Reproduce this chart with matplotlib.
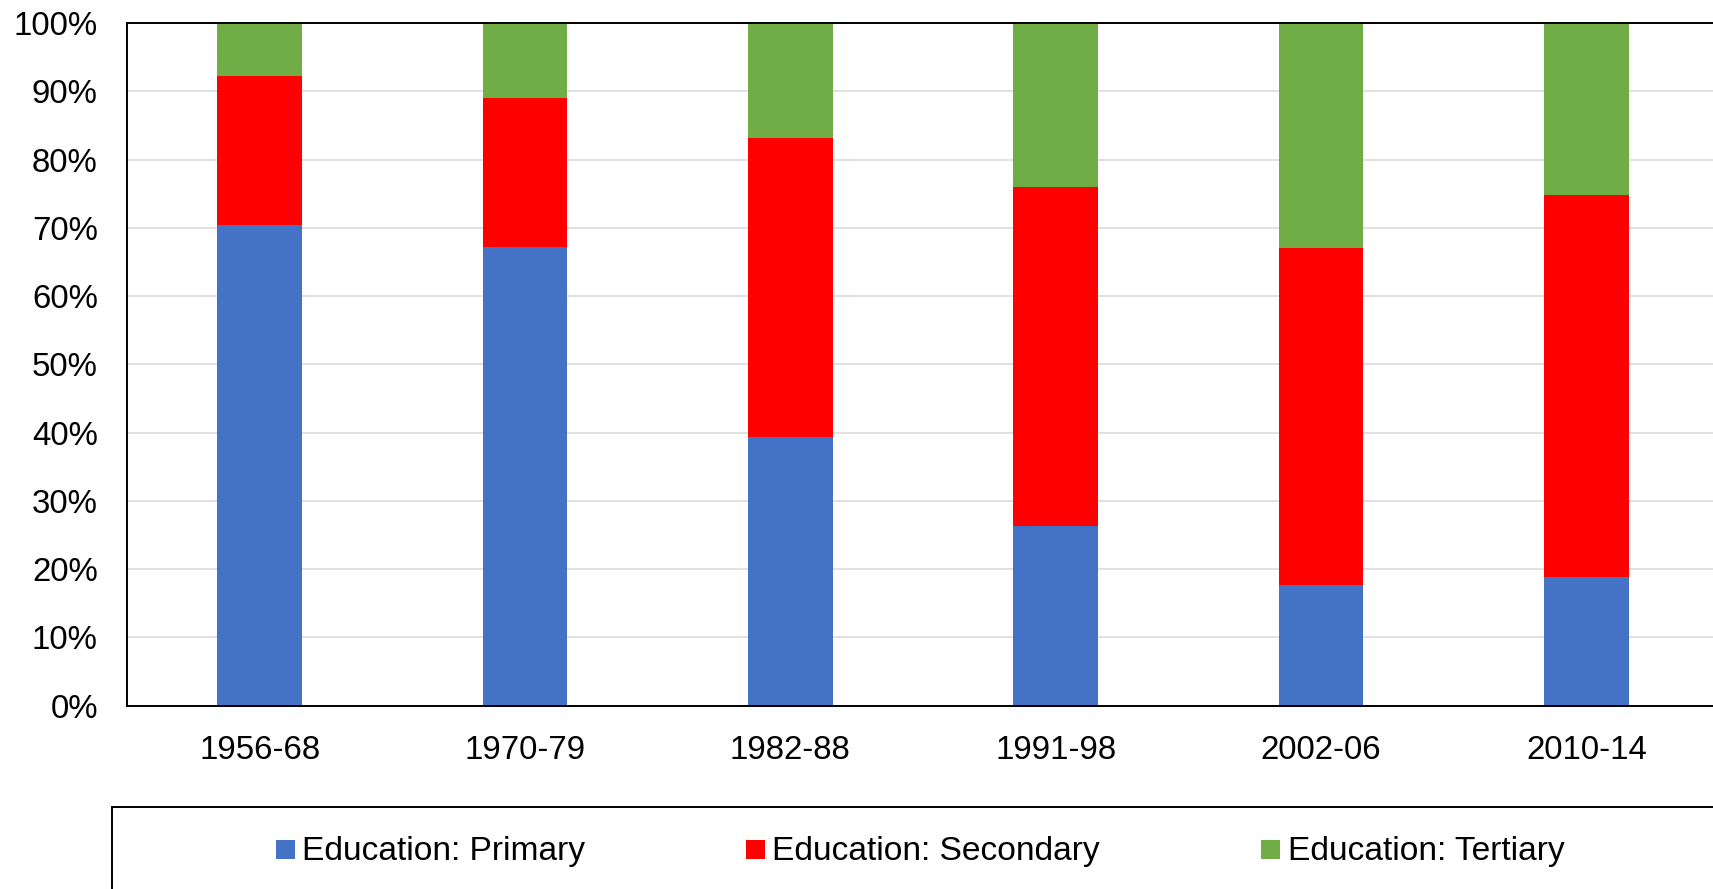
import numpy as np
from matplotlib import pyplot as plt
from matplotlib.patches import Rectangle

# datos (porcentaje de cada nivel)
periods = ['1956-68', '1970-79', '1982-88', '1991-98', '2002-06', '2010-14']
primary = [70.4, 67.2, 39.4, 26.3, 17.7, 18.8]
secondary = [21.8, 21.8, 43.8, 49.7, 49.4, 56.0]
tertiary = [7.8, 11.0, 16.8, 24.0, 32.9, 25.2]
series_names = ['Education: Primary', 'Education: Secondary', 'Education: Tertiary']
colors = ['#4472C4', '#FF0000', '#70AD47']

plt.rcParams['font.family'] = ['Liberation Sans', 'DejaVu Sans']

W, H = 1713, 889
fig = plt.figure(figsize=(W / 100, H / 100), dpi=100)

# el eje se sale del borde derecho (imagen recortada)
left, right = 127, 1719
top, bottom = 23, 705.7
ax = fig.add_axes([left / W, (H - bottom) / H, (right - left) / W, (bottom - top) / H])

x = np.arange(len(periods))
bar_w = 0.32
base = np.zeros(len(periods))
bars = []
for vals, col, name in zip([primary, secondary, tertiary], colors, series_names):
    b = ax.bar(x, vals, bar_w, bottom=base, color=col, label=name, zorder=2)
    bars.append(b)
    base = base + np.array(vals)

ax.set_xlim(-0.5, len(periods) - 0.5)
ax.set_ylim(0, 100)
ax.set_yticks(np.arange(0, 101, 10))
ax.set_yticklabels([f'{v}%' for v in range(0, 101, 10)])
ax.set_xticks(x)
ax.set_xticklabels(periods)
ax.tick_params(axis='both', length=0, labelsize=23.8)
ax.tick_params(axis='y', pad=21)
ax.tick_params(axis='x', pad=21)
ax.yaxis.grid(True, color='#D9D9D9', linewidth=1.1, zorder=0)
ax.set_axisbelow(True)
for side in ['left', 'bottom', 'top']:
    ax.spines[side].set_color('black')
    ax.spines[side].set_linewidth(1.4)
ax.spines['right'].set_visible(False)

# caja de leyenda (tambien recortada a la derecha y abajo)
fig.add_artist(Rectangle((112 / W, -0.2), 1.2, 0.2 + (H - 806.7) / H,
                         transform=fig.transFigure, fill=False,
                         edgecolor='black', linewidth=1.4))

# entradas de leyenda
marker_x = [276, 746, 1261]
sq = 18.5
for mx, b, name in zip(marker_x, bars, series_names):
    fig.add_artist(Rectangle((mx / W, (H - 858.5) / H), sq / W, sq / H,
                             transform=fig.transFigure,
                             facecolor=b.patches[0].get_facecolor(), edgecolor='none'))
    fig.text((mx + 26.5) / W, (H - 860) / H, name, fontsize=24.1,
             ha='left', va='baseline')

fig.savefig('out.png', dpi=100)
